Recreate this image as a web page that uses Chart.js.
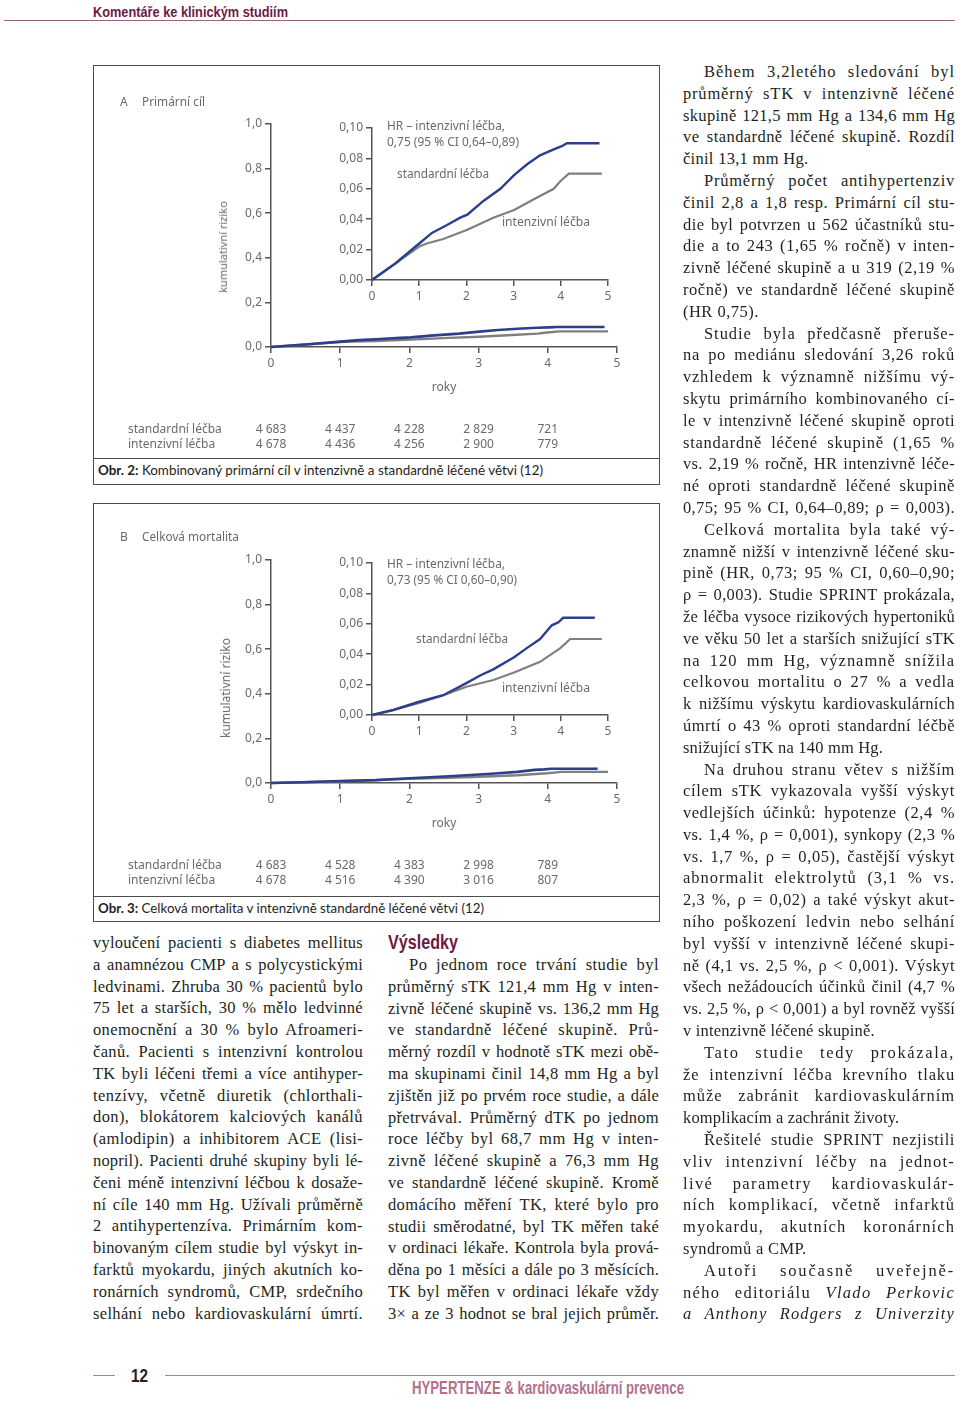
<!DOCTYPE html>
<html>
<head>
<meta charset="utf-8">
<script src="https://cdn.jsdelivr.net/npm/chart.js@4.4.1/dist/chart.umd.min.js"></script>
<style>
body { margin: 0; background: #fff; width: 960px; height: 1403px; position: relative; overflow: hidden; color: #231f20; }
.abs { position: absolute; white-space: nowrap; }
.cv { position: absolute; }
.hd { font-family: "Liberation Sans Narrow", "Liberation Sans", sans-serif; font-weight: bold; }
.lb { font-family: "Noto Sans", sans-serif; font-size: 12px; line-height: 16px; color: #6a6a6a; }
.cap { font-family: Lato, "Noto Sans", sans-serif; font-size: 13px; line-height: 16px; color: #1e1e1e; }
.box { position: absolute; border: 1.5px solid #4d4d4d; box-sizing: border-box; background: #fff; }
.sep { position: absolute; height: 0; border-top: 1.5px solid #4d4d4d; }
.rule { position: absolute; height: 0; }
.col { position: absolute; font-family: "Liberation Serif", serif; font-size: 16.5px; line-height: 21.8px; }
.col div { height: 21.8px; white-space: nowrap; }
.col .j { text-align: justify; text-align-last: justify; white-space: normal; overflow: hidden; }
.col .l { text-align: left; }
.col .in { text-indent: 21px; }
.yt { position: absolute; white-space: nowrap; transform: translate(-50%, -50%) rotate(-90deg); }
</style>
</head>
<body>

<!-- hlavička -->
<div class="abs hd" data-w="195" style="left:93px;top:3px;font-size:15px;line-height:18px;color:#6e1a45">Komentáře ke klinickým studiím</div>
<div class="rule" style="left:4px;top:20px;width:951px;border-top:1.5px solid #94647a"></div>

<!-- Obr. 2 -->
<div class="box" style="left:93px;top:65px;width:567px;height:420px"></div>
<div class="sep" style="left:93px;top:458px;width:567px"></div>
<canvas id="mainA" class="cv" width="564" height="391" style="left:94px;top:66px;width:564px;height:391px"></canvas>
<canvas id="insetA" class="cv" width="310" height="200" style="left:325px;top:110px;width:310px;height:200px"></canvas>
<div class="abs lb" style="left:120px;top:94px">A</div>
<div class="abs lb" data-w="63" style="left:142px;top:94px">Primární cíl</div>
<div class="yt lb" style="left:223px;top:247px;font-size:11px">kumulativní riziko</div>
<div class="abs lb" data-w="118" style="left:387px;top:118px">HR – intenzivní léčba,</div>
<div class="abs lb" data-w="132" style="left:387px;top:134px">0,75 (95 % CI 0,64–0,89)</div>
<div class="abs lb" data-w="92" style="left:397px;top:166px">standardní léčba</div>
<div class="abs lb" data-w="88" style="left:502px;top:214px">intenzivní léčba</div>
<div class="abs cap" data-w="445" style="left:98px;top:462px"><b>Obr. 2:</b> Kombinovaný primární cíl v intenzivně a standardně léčené větvi (12)</div>

<!-- Obr. 3 -->
<div class="box" style="left:93px;top:503px;width:567px;height:419px"></div>
<div class="sep" style="left:93px;top:896px;width:567px"></div>
<canvas id="mainB" class="cv" width="564" height="391" style="left:94px;top:504px;width:564px;height:391px"></canvas>
<canvas id="insetB" class="cv" width="310" height="200" style="left:325px;top:545px;width:310px;height:200px"></canvas>
<div class="abs lb" style="left:120px;top:529px">B</div>
<div class="abs lb" data-w="97" style="left:142px;top:529px">Celková mortalita</div>
<div class="yt lb" style="left:226px;top:688px">kumulativní riziko</div>
<div class="abs lb" data-w="118" style="left:387px;top:556px">HR – intenzivní léčba,</div>
<div class="abs lb" data-w="130" style="left:387px;top:572px">0,73 (95 % CI 0,60–0,90)</div>
<div class="abs lb" data-w="92" style="left:416px;top:631px">standardní léčba</div>
<div class="abs lb" data-w="88" style="left:502px;top:680px">intenzivní léčba</div>
<div class="abs cap" data-w="386" style="left:98px;top:900px"><b>Obr. 3:</b> Celková mortalita v intenzivně standardně léčené větvi (12)</div>

<!-- sloupce textu -->
<div id="colLeft" class="col" style="left:93px;top:932px;width:270px"></div>
<div class="abs hd" data-w="70" style="left:388px;top:930px;font-size:20px;line-height:24px;color:#6e1a45">Výsledky</div>
<div id="colMid" class="col" style="left:388px;top:954px;width:271px"></div>
<div id="colRight" class="col" style="left:683px;top:61px;width:272px"></div>

<!-- patička -->
<div class="rule" style="left:93px;top:1375px;width:22px;border-top:1.5px solid #b07d94"></div>
<div class="abs hd" data-w="17" style="left:131px;top:1365px;font-size:19px;line-height:22px;color:#222">12</div>
<div class="rule" style="left:165px;top:1375px;width:790px;border-top:1.5px solid #b07d94"></div>
<div class="abs hd" data-w="272" style="left:412px;top:1377px;font-size:18px;line-height:22px;color:#b3708f">HYPERTENZE &amp; kardiovaskulární prevence</div>

<script>
// roky sledování (osa x)
var years = [0, 1, 2, 3, 4, 5];

// Obr. 2 – primární cíl, kumulativní riziko
var aStdT = [0, 0.5, 1, 1.27, 1.58, 1.87, 2.02, 2.36, 2.72, 3.01, 3.28, 3.56, 3.85, 4.02, 4.13, 4.82];
var aStdY = [0, 0.011, 0.024, 0.031, 0.036, 0.041, 0.043, 0.052, 0.060, 0.069, 0.076, 0.082, 0.086, 0.088, 0.090, 0.090];
var aIntT = [0, 0.5, 1, 1.16, 1.51, 2.02, 2.57, 3.01, 3.42, 3.85, 3.99, 4.17, 4.87];
var aIntY = [0, 0.011, 0.022, 0.024, 0.027, 0.033, 0.041, 0.046, 0.053, 0.060, 0.065, 0.070, 0.070];
var aRiskStd = ['4 683', '4 437', '4 228', '2 829', '721'];
var aRiskInt = ['4 678', '4 436', '4 256', '2 900', '779'];

// Obr. 3 – celková mortalita
var bStdT = [0, 0.45, 1, 1.51, 2.0, 2.29, 2.57, 3.01, 3.28, 3.56, 3.81, 3.95, 4.05, 4.72];
var bStdY = [0, 0.0033, 0.0087, 0.013, 0.021, 0.026, 0.030, 0.038, 0.044, 0.050, 0.059, 0.061, 0.064, 0.064];
var bIntT = [0, 0.45, 1, 1.51, 2.0, 2.57, 3.01, 3.56, 3.99, 4.2, 4.87];
var bIntY = [0, 0.0033, 0.008, 0.013, 0.0186, 0.023, 0.028, 0.035, 0.044, 0.050, 0.050];
var bRiskStd = ['4 683', '4 528', '4 383', '2 998', '789'];
var bRiskInt = ['4 678', '4 516', '4 390', '3 016', '807'];

var rowLabels = ['standardní léčba', 'intenzivní léčba'];

var BLUE = '#2d3f8c';
var GRAY = '#7f7f7f';
var AXIS = '#555555';
var TXT = '#6a6a6a';

Chart.defaults.font.family = '"Noto Sans", sans-serif';
Chart.defaults.font.size = 12;
Chart.defaults.color = TXT;

function pts(t, y) {
    var out = [];
    for (var i = 0; i < t.length; i++) out.push({x: t[i], y: y[i]});
    return out;
}

// tabulka počtu pacientů pod osou x
var riskPlugin = {
    id: 'riskTable',
    afterDraw: function (chart, args, opts) {
        if (!opts.rows) return;
        var ctx = chart.ctx;
        var xs = chart.scales.x;
        var base = chart.chartArea.bottom;
        ctx.save();
        ctx.font = '12px "Noto Sans", sans-serif';
        ctx.fillStyle = TXT;
        ctx.textBaseline = 'middle';
        opts.rows.forEach(function (row, r) {
            var y = base + 83 + r * 15;
            ctx.textAlign = 'left';
            ctx.fillText(rowLabels[r], 34, y);
            ctx.textAlign = 'center';
            row.forEach(function (v, i) {
                ctx.fillText(v, xs.getPixelForValue(years[i]), y);
            });
        });
        ctx.restore();
    }
};

function axisStyle() {
    return {
        grid: {drawOnChartArea: false, drawTicks: true, tickLength: 6, color: AXIS, lineWidth: 1.5},
        border: {display: true, color: AXIS, width: 1.5}
    };
}

function makeChart(id, stdT, stdY, intT, intY, inset, padTop, padBottom, risk) {
    var xs = axisStyle();
    var ys = axisStyle();
    xs.type = 'linear';
    xs.min = 0;
    xs.max = 5;
    xs.ticks = {stepSize: 1, padding: 3, callback: function (v) { return v; }};
    ys.min = 0;
    ys.max = inset ? 0.1 : 1;
    ys.ticks = {
        stepSize: inset ? 0.02 : 0.2,
        padding: 3,
        callback: function (v) { return v.toFixed(inset ? 2 : 1).replace('.', ','); }
    };
    if (inset) {
        xs.afterFit = function (s) { s.height = 20; };
        ys.afterFit = function (s) { s.width = 47; };
    } else {
        xs.title = {display: true, text: 'roky', padding: 0, color: TXT, font: {size: 12}};
        xs.afterFit = function (s) { s.height = 48; };
        ys.afterFit = function (s) { s.width = 56; };
    }
    return new Chart(document.getElementById(id), {
        type: 'line',
        data: {
            datasets: [{
                label: 'standardní léčba',
                data: pts(stdT, stdY),
                borderColor: BLUE,
                borderWidth: inset ? 2.4 : 2.6,
                pointRadius: 0,
                tension: 0,
                clip: false
            }, {
                label: 'intenzivní léčba',
                data: pts(intT, intY),
                borderColor: GRAY,
                borderWidth: inset ? 2.2 : 2.4,
                pointRadius: 0,
                tension: 0,
                clip: false
            }]
        },
        options: {
            responsive: false,
            animation: false,
            layout: {
                autoPadding: false,
                padding: inset ? {left: 0, top: padTop, right: 27, bottom: padBottom}
                               : {left: 121, top: padTop, right: 41, bottom: padBottom}
            },
            plugins: {
                legend: {display: false},
                tooltip: {enabled: false},
                riskTable: {rows: risk}
            },
            scales: {x: xs, y: ys}
        },
        plugins: [riskPlugin]
    });
}

makeChart('mainA', aStdT, aStdY, aIntT, aIntY, false, 58, 62, [aRiskStd, aRiskInt]);
makeChart('insetA', aStdT, aStdY, aIntT, aIntY, true, 18, 10, null);
makeChart('mainB', bStdT, bStdY, bIntT, bIntY, false, 56, 64, [bRiskStd, bRiskInt]);
makeChart('insetB', bStdT, bStdY, bIntT, bIntY, true, 18, 10, null);

// text článku: ">" = odsazení, "|" = poslední řádek odstavce
var colLeft = [
    'vyloučení pacienti s diabetes mellitus',
    'a anamnézou CMP a s polycystickými',
    'ledvinami. Zhruba 30 % pacientů bylo',
    '75 let a starších, 30 % mělo ledvinné',
    'onemocnění a 30 % bylo Afroameri-',
    'čanů. Pacienti s intenzivní kontrolou',
    'TK byli léčeni třemi a více antihyper-',
    'tenzívy, včetně diuretik (chlorthali-',
    'don), blokátorem kalciových kanálů',
    '(amlodipin) a inhibitorem ACE (lisi-',
    'nopril). Pacienti druhé skupiny byli lé-',
    'čeni méně intenzivní léčbou k dosaže-',
    'ní cíle 140 mm Hg. Užívali průměrně',
    '2 antihypertenzíva. Primárním kom-',
    'binovaným cílem studie byl výskyt in-',
    'farktů myokardu, jiných akutních ko-',
    'ronárních syndromů, CMP, srdečního',
    'selhání nebo kardiovaskulární úmrtí.'
];
var colMid = [
    '>Po jednom roce trvání studie byl',
    'průměrný sTK 121,4 mm Hg v inten-',
    'zivně léčené skupině vs. 136,2 mm Hg',
    've standardně léčené skupině. Prů-',
    'měrný rozdíl v hodnotě sTK mezi obě-',
    'ma skupinami činil 14,8 mm Hg a byl',
    'zjištěn již po prvém roce studie, a dále',
    'přetrvával. Průměrný dTK po jednom',
    'roce léčby byl 68,7 mm Hg v inten-',
    'zivně léčené skupině a 76,3 mm Hg',
    've standardně léčené skupině. Kromě',
    'domácího měření TK, které bylo pro',
    'studii směrodatné, byl TK měřen také',
    'v ordinaci lékaře. Kontrola byla prová-',
    'děna po 1 měsíci a dále po 3 měsících.',
    'TK byl měřen v ordinaci lékaře vždy',
    '3× a ze 3 hodnot se bral jejich průměr.'
];
var colRight = [
    '>Během 3,2letého sledování byl',
    'průměrný sTK v intenzivně léčené',
    'skupině 121,5 mm Hg a 134,6 mm Hg',
    've standardně léčené skupině. Rozdíl',
    'činil 13,1 mm Hg.|',
    '>Průměrný počet antihypertenziv',
    'činil 2,8 a 1,8 resp. Primární cíl stu-',
    'die byl potvrzen u 562 účastníků stu-',
    'die a to 243 (1,65 % ročně) v inten-',
    'zivně léčené skupině a u 319 (2,19 %',
    'ročně) ve standardně léčené skupině',
    '(HR 0,75).|',
    '>Studie byla předčasně přeruše-',
    'na po mediánu sledování 3,26 roků',
    'vzhledem k významně nižšímu vý-',
    'skytu primárního kombinovaného cí-',
    'le v intenzivně léčené skupině oproti',
    'standardně léčené skupině (1,65 %',
    'vs. 2,19 % ročně, HR intenzivně léče-',
    'né oproti standardně léčené skupině',
    '0,75; 95 % CI, 0,64–0,89; ρ = 0,003).',
    '>Celková mortalita byla také vý-',
    'znamně nižší v intenzivně léčené sku-',
    'pině (HR, 0,73; 95 % CI, 0,60–0,90;',
    'ρ = 0,003). Studie SPRINT prokázala,',
    'že léčba vysoce rizikových hypertoniků',
    've věku 50 let a starších snižující sTK',
    'na 120 mm Hg, významně snížila',
    'celkovou mortalitu o 27 % a vedla',
    'k nižšímu výskytu kardiovaskulárních',
    'úmrtí o 43 % oproti standardní léčbě',
    'snižující sTK na 140 mm Hg.|',
    '>Na druhou stranu větev s nižším',
    'cílem sTK vykazovala vyšší výskyt',
    'vedlejších účinků: hypotenze (2,4 %',
    'vs. 1,4 %, ρ = 0,001), synkopy (2,3 %',
    'vs. 1,7 %, ρ = 0,05), častější výskyt',
    'abnormalit elektrolytů (3,1 % vs.',
    '2,3 %, ρ = 0,02) a také výskyt akut-',
    'ního poškození ledvin nebo selhání',
    'byl vyšší v intenzivně léčené skupi-',
    'ně (4,1 vs. 2,5 %, ρ &lt; 0,001). Výskyt',
    'všech nežádoucích účinků činil (4,7 %',
    'vs. 2,5 %, ρ &lt; 0,001) a byl rovněž vyšší',
    'v intenzivně léčené skupině.|',
    '>Tato studie tedy prokázala,',
    'že intenzivní léčba krevního tlaku',
    'může zabránit kardiovaskulárním',
    'komplikacím a zachránit životy.|',
    '>Řešitelé studie SPRINT nezjistili',
    'vliv intenzivní léčby na jednot-',
    'livé parametry kardiovaskulár-',
    'ních komplikací, včetně infarktů',
    'myokardu, akutních koronárních',
    'syndromů a CMP.|',
    '>Autoři současně uveřejně-',
    'ného editoriálu <i>Vlado Perkovic</i>',
    '<i>a Anthony Rodgers z Univerzity</i>'
];

var meas = document.createElement('canvas').getContext('2d');
meas.font = '16.5px "Liberation Serif"';

// řádky do bloku; přebytek místa se dělí mezi písmena a mezery
function fillColumn(id, lines, share) {
    var col = document.getElementById(id);
    var width = col.offsetWidth;
    lines.forEach(function (src) {
        var d = document.createElement('div');
        var indent = src.charAt(0) === '>';
        var last = src.charAt(src.length - 1) === '|';
        var html = src.replace(/^>/, '').replace(/\|$/, '');
        d.innerHTML = html;
        d.className = (last ? 'l' : 'j') + (indent ? ' in' : '');
        col.appendChild(d);
        var txt = d.textContent;
        var avail = width - (indent ? 21 : 0) - 1;
        var w = meas.measureText(txt).width;
        var extra = avail - w;
        if (extra < 0) {
            d.style.letterSpacing = (extra / txt.length) + 'px';
        } else if (!last) {
            d.style.letterSpacing = (extra * share / txt.length) + 'px';
        } else {
            d.style.letterSpacing = Math.min(0.6, 8 * share / txt.length) + 'px';
        }
    });
}
fillColumn('colLeft', colLeft, 0.45);
fillColumn('colMid', colMid, 0.45);
fillColumn('colRight', colRight, 0.6);

// přizpůsobení šířky nadpisů a popisků
document.querySelectorAll('[data-w]').forEach(function (el) {
    var w = el.getBoundingClientRect().width;
    el.style.transformOrigin = 'left center';
    el.style.transform = 'scaleX(' + (parseFloat(el.dataset.w) / w) + ')';
});
</script>
</body>
</html>
